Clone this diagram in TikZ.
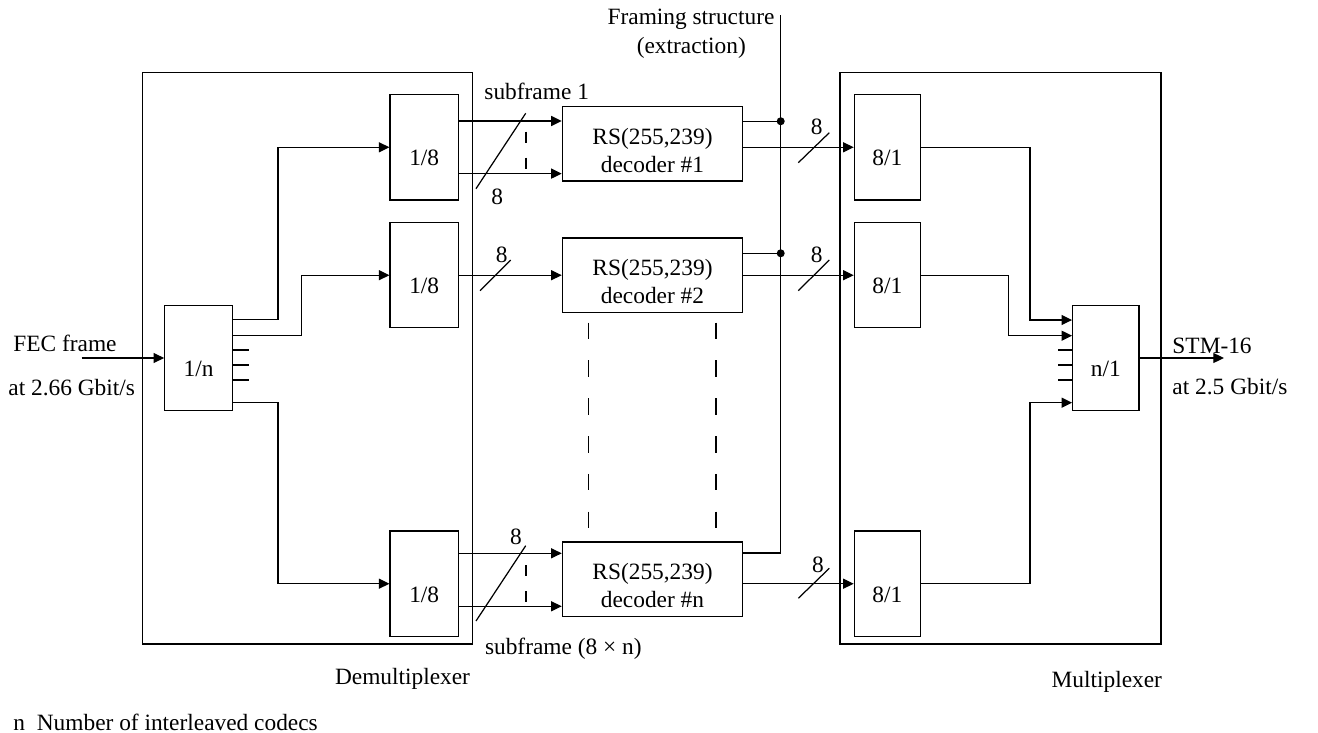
\documentclass[tikz,border=0pt]{standalone}
\usepackage{fontspec}
\setmainfont{Liberation Serif}
\usetikzlibrary{positioning, arrows.meta}
\tikzset{
frame/.style={
  draw,
  rectangle,
  minimum height=11.434cm
  },
block/.style={
  draw,
  rectangle,
  inner sep=0pt,
  minimum width=1.366cm,
  minimum height=2.106cm,
  text height=7.4mm, text depth=0pt
  },
decoder/.style={
  draw,
  rectangle,
  minimum width=3.608cm,
  minimum height=1.49cm, align=center,
  text height=11.5mm
  },
line/.style={-{Triangle[length=2.1mm,width=2mm]}},
dot/.style={circle, fill, inner sep=0pt, minimum size=1.6mm},
shortdash/.style={dash pattern=on 6.3pt off 8.5pt},
longdash/.style={dash pattern=on 9.5pt off 12pt}
}
\begin{document}
\begin{tikzpicture}[x=0.02cm, y=-0.02cm, line width=0.7pt,
  font=\fontsize{13.3}{16}\selectfont]
\useasboundingbox (0,0) rectangle (1318,733);
% outer boxes
\node[frame, minimum width=6.6cm] (demux) at (307.7,358.2) {};
\node[frame, minimum width=6.42cm] (mux) at (1000.5,358.2) {};
\node (demuxlbl) at (402.5,679) {Demultiplexer};
\node (muxlbl) at (1106.8,681.7) {Multiplexer};
% demultiplexer
\node[block, minimum width=1.352cm] (dmx) at (198.5,358) {1/n};
\node[block] (sp1) at (424.2,147.3) {1/8};
\node[block] (sp2) at (424.2,275.2) {1/8};
\node[block] (spn) at (424.2,583.7) {1/8};
% decoders
\node[decoder] (dec1) at (652.5,143.8) {RS(255,239)\\decoder \#1};
\node[decoder] (dec2) at (652.5,275.3) {RS(255,239)\\decoder \#2};
\node[decoder] (decn) at (652.5,579.3) {RS(255,239)\\decoder \#n};
% multiplexer
\node[block, minimum width=1.32cm] (mx1) at (887.3,147.3) {8/1};
\node[block, minimum width=1.32cm] (mx2) at (887.3,275.2) {8/1};
\node[block, minimum width=1.32cm] (mx3) at (887.3,583.7) {8/1};
\node[block, minimum width=1.326cm] (mxn) at (1105.8,358) {n/1};
% input and output
\coordinate (fecin) at (81.7,358);
\draw[line] (fecin) -- (dmx);
\node (fec) at (65,343.3) {FEC frame};
\node (fecrate) at (71.7,388) {at 2.66 Gbit/s};
\draw[line] (mxn.east) -- ++(84.3,0) coordinate (stm);
\node[anchor=west] (stmlbl) at (1166,346) {STM-16};
\node[anchor=west] (stmrate) at (1166,386.7) {at 2.5 Gbit/s};
% 1/n to 1/8
\draw[line] ([yshift=7.66mm]dmx.east) -- ++(45,0) |- (sp1);
\draw[line] ([yshift=4.46mm]dmx.east) -- ++(68.4,0) |- (sp2);
\draw[line] ([yshift=-8.94mm]dmx.east) -- ++(45,0) |- (spn);
\foreach \s in {1.6,-1.4,-4.4}
  \draw ([yshift=\s mm]dmx.east) -- ++(16,0);
% 1/8 to decoders
\draw[line] ([yshift=5.26mm]sp1.east) coordinate (a1) -- (a1 -| dec1.west);
\draw[line] ([yshift=-5.26mm]sp1.east) coordinate (b1) -- (b1 -| dec1.west);
\draw[line] (sp2.east) -- (sp2.east -| dec2.west);
\draw[line] ([yshift=6.08mm]spn.east) coordinate (an) -- (an -| decn.west);
\draw[line] ([yshift=-4.52mm]spn.east) coordinate (bn) -- (bn -| decn.west);
\draw (476,188.7) -- (525.7,113.3);
\draw (480,290.7) -- (510.7,260);
\draw (476,621) -- (525.7,545.7);
\draw[shortdash] (526,131.7) -- (526,170);
\draw[shortdash] (526,565) -- (526,601.7);
\node (sub1) at (536.7,91.7) {subframe 1};
\node (subn) at (563.3,648.3) {subframe (8 × n)};
\node (w1) at (497.3,196.7) {8};
\node (w2) at (501.7,255) {8};
\node (wn) at (516,537.3) {8};
% more decoders
\draw[longdash] (588.3,322.7) -- (588.3,528.3);
\draw[longdash] (716,322.7) -- (716,528.3);
% framing structure
\coordinate (ftop) at (780.7,15);
\draw ([yshift=5.27mm]decn.east) -| (ftop);
\draw ([yshift=4.51mm]dec1.east) coordinate (c1) -- (c1 -| ftop) node[dot] (j1) {};
\draw ([yshift=4.4mm]dec2.east) coordinate (c2) -- (c2 -| ftop) node[dot] (j2) {};
\node (frm) at (691,19.3) {Framing structure};
\node (frmx) at (691.3,48.3) {(extraction)};
% decoders to 8/1
\draw[line] (mx1.west -| dec1.east) -- (mx1);
\draw[line] (mx2.west -| dec2.east) -- (mx2);
\draw[line] (mx3.west -| decn.east) -- (mx3);
\draw (798.3,162.7) -- (829.3,132.7);
\draw (798.3,290.7) -- (829.3,260);
\draw (798.3,598.3) -- (829.3,568.3);
\node (v1) at (816.7,126.7) {8};
\node (v2) at (816.7,255) {8};
\node (vn) at (818,565) {8};
% 8/1 to n/1
\draw[line] (mx1.east) -- ++(109,0) |- ([yshift=7.6mm]mxn.west);
\draw[line] (mx2.east) -- ++(87.4,0) |- ([yshift=4.46mm]mxn.west);
\draw[line] (mx3.east) -- ++(109,0) |- ([yshift=-8.94mm]mxn.west);
\foreach \s in {1.6,-1.4,-4.4}
  \draw ([yshift=\s mm]mxn.west) -- ++(-14.4,0);
\node[anchor=west] (note) at (7,722) {n~~Number of interleaved codecs};
\end{tikzpicture}
\end{document}
